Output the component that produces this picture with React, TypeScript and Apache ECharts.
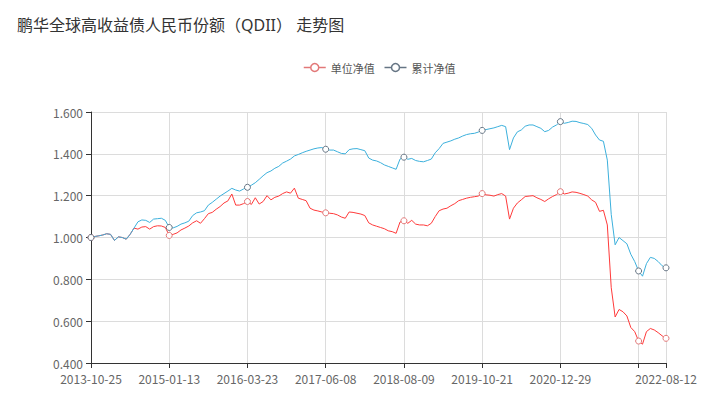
import React, { useEffect, useRef } from 'react';
import * as echarts from 'echarts';

const TITLE = '鹏华全球高收益债人民币份额（QDII） 走势图';
const SERIES_NAMES = ['单位净值', '累计净值'];

// dates shown at the category ticks, and the category index of each
const TICK_DATES = ['2013-10-25', '2015-01-13', '2016-03-23', '2017-06-08', '2018-08-09', '2019-10-21', '2020-12-29', '2022-03-10', '2022-08-12'];
const TICK_INDEX = [0, 20, 40, 60, 80, 100, 120, 140, 147];
const HIDDEN_LABEL_INDEX = [140];

// 单位净值
const unitNav = [
  1.000, 1.005, 1.008, 1.012, 1.018, 1.015, 0.986, 1.003, 1.000, 0.992, 1.015, 1.045,
  1.040, 1.050, 1.052, 1.040, 1.052, 1.056, 1.055, 1.048, 1.010,
  1.015, 1.022, 1.036, 1.045, 1.055, 1.070, 1.080, 1.068, 1.090, 1.114, 1.120, 1.135, 1.148, 1.165, 1.175, 1.208, 1.155, 1.155, 1.162, 1.172,
  1.158, 1.190, 1.160, 1.172, 1.200, 1.180, 1.192, 1.198, 1.210, 1.218, 1.212, 1.236, 1.188, 1.182, 1.176, 1.140, 1.131, 1.127, 1.122, 1.118,
  1.116, 1.114, 1.108, 1.098, 1.092, 1.122, 1.120, 1.116, 1.112, 1.105, 1.070, 1.060, 1.054, 1.048, 1.042, 1.032, 1.028, 1.020, 1.074, 1.080,
  1.068, 1.082, 1.064, 1.060, 1.060, 1.056, 1.068, 1.100, 1.128, 1.136, 1.140, 1.152, 1.162, 1.176, 1.182, 1.188, 1.192, 1.195, 1.198, 1.210,
  1.204, 1.202, 1.198, 1.205, 1.210, 1.198, 1.088, 1.140, 1.165, 1.180, 1.196, 1.198, 1.200, 1.190, 1.182, 1.172, 1.185, 1.196, 1.205, 1.219,
  1.208, 1.212, 1.218, 1.216, 1.211, 1.205, 1.198, 1.180, 1.168, 1.125, 1.130, 1.060, 0.760, 0.620, 0.656, 0.645, 0.625, 0.570, 0.550, 0.505,
  0.490, 0.550, 0.565, 0.558, 0.545, 0.530, 0.518,
];

// 累计净值
const cumNav = [
  1.000, 1.005, 1.008, 1.012, 1.018, 1.015, 0.986, 1.003, 1.000, 0.992, 1.015, 1.045,
  1.075, 1.084, 1.082, 1.072, 1.088, 1.090, 1.092, 1.082, 1.048,
  1.046, 1.053, 1.064, 1.070, 1.078, 1.105, 1.118, 1.122, 1.128, 1.155, 1.168, 1.183, 1.198, 1.210, 1.222, 1.235, 1.227, 1.222, 1.232, 1.240,
  1.250, 1.262, 1.278, 1.295, 1.310, 1.318, 1.331, 1.340, 1.356, 1.365, 1.375, 1.390, 1.397, 1.405, 1.412, 1.418, 1.424, 1.428, 1.430, 1.422,
  1.418, 1.418, 1.410, 1.402, 1.400, 1.420, 1.424, 1.425, 1.420, 1.415, 1.380, 1.370, 1.366, 1.358, 1.347, 1.340, 1.333, 1.326, 1.375, 1.384,
  1.374, 1.378, 1.368, 1.364, 1.362, 1.368, 1.375, 1.405, 1.425, 1.450, 1.456, 1.462, 1.470, 1.476, 1.485, 1.492, 1.496, 1.498, 1.504, 1.512,
  1.516, 1.520, 1.524, 1.530, 1.536, 1.530, 1.420, 1.476, 1.505, 1.514, 1.532, 1.538, 1.538, 1.530, 1.522, 1.506, 1.512, 1.528, 1.538, 1.554,
  1.546, 1.550, 1.556, 1.555, 1.549, 1.545, 1.540, 1.522, 1.490, 1.466, 1.460, 1.370, 1.110, 0.965, 1.000, 0.985, 0.970, 0.920, 0.885, 0.840,
  0.815, 0.875, 0.905, 0.900, 0.885, 0.865, 0.855,
];

const Y_MIN = 0.4;
const Y_MAX = 1.6;
const Y_STEP = 0.2;

const FONT = "'Noto Sans CJK SC', 'Noto Sans', sans-serif";
const TITLE_FONT = "'Noto Sans', 'Noto Sans CJK SC', sans-serif";
const RED_LINE = '#ff3a3a';
const BLUE_LINE = '#3cb0dc';
const RED_MARK = '#e27878';
const GREY_MARK = '#667584';

// category dates: tick dates, with the dates in between spread over each span
function buildCategories(): string[] {
  const out: string[] = [];
  const ms = TICK_DATES.map((d) => Date.parse(d + 'T00:00:00Z'));
  for (let s = 0; s < TICK_INDEX.length - 1; s++) {
    const a = TICK_INDEX[s];
    const b = TICK_INDEX[s + 1];
    for (let i = a; i < b; i++) {
      const t = ms[s] + Math.round(((i - a) / (b - a)) * ((ms[s + 1] - ms[s]) / 86400000)) * 86400000;
      out.push(new Date(t).toISOString().slice(0, 10));
    }
  }
  out.push(TICK_DATES[TICK_DATES.length - 1]);
  return out;
}

const isTick = (i: number) => TICK_INDEX.indexOf(i) >= 0;
const isLabel = (i: number) => isTick(i) && HIDDEN_LABEL_INDEX.indexOf(i) < 0;
const withMarks = (values: number[]) =>
  values.map((v, i) => (isTick(i) ? v : { value: v, symbol: 'none' }));

export default function App() {
  const ref = useRef<HTMLDivElement>(null);

  useEffect(() => {
    if (!ref.current) return;
    const chart = echarts.init(ref.current, undefined, { renderer: 'svg' });
    const categories = buildCategories();

    chart.setOption({
      animation: false,
      textStyle: { fontFamily: FONT },
      title: {
        text: TITLE,
        left: 12,
        top: 12,
        textStyle: { fontSize: 16, fontWeight: 'normal', color: '#333', fontFamily: TITLE_FONT },
      },
      legend: {
        left: 298,
        top: 57,
        itemWidth: 22,
        itemHeight: 10,
        itemGap: 9,
        textStyle: { fontSize: 11, color: '#555', fontFamily: FONT },
        data: [
          {
            name: SERIES_NAMES[0],
            itemStyle: { color: '#fff', borderColor: RED_MARK, borderWidth: 1.5 },
            lineStyle: { color: RED_MARK, width: 1.5 },
          },
          {
            name: SERIES_NAMES[1],
            itemStyle: { color: '#fff', borderColor: GREY_MARK, borderWidth: 1.5 },
            lineStyle: { color: GREY_MARK, width: 1.5 },
          },
        ],
      },
      grid: { left: 91, right: 50, top: 112, bottom: 36, containLabel: false },
      xAxis: {
        type: 'category',
        boundaryGap: false,
        data: categories,
        axisLine: { show: true, lineStyle: { color: '#333' } },
        axisTick: { show: true, interval: (i: number) => isTick(i), length: 5, lineStyle: { color: '#333' } },
        axisLabel: { interval: (i: number) => isLabel(i), color: '#666', fontSize: 12, margin: 9, fontFamily: FONT },
        splitLine: { show: true, interval: (i: number) => isTick(i), lineStyle: { color: '#dcdcdc', width: 1 } },
      },
      yAxis: {
        type: 'value',
        min: Y_MIN,
        max: Y_MAX,
        interval: Y_STEP,
        axisLine: { show: true, lineStyle: { color: '#333' } },
        axisTick: { show: true, length: 5, lineStyle: { color: '#333' } },
        axisLabel: {
          color: '#666',
          fontSize: 12,
          margin: 8,
          fontFamily: FONT,
          formatter: (v: number) => v.toFixed(3),
        },
        splitLine: { show: true, lineStyle: { color: '#dcdcdc', width: 1 } },
      },
      series: [
        {
          name: SERIES_NAMES[0],
          type: 'line',
          data: withMarks(unitNav),
          showAllSymbol: true,
          symbol: 'circle',
          symbolSize: 6,
          itemStyle: { color: '#fff', borderColor: RED_MARK, borderWidth: 1 },
          lineStyle: { color: RED_LINE, width: 1 },
        },
        {
          name: SERIES_NAMES[1],
          type: 'line',
          data: withMarks(cumNav),
          showAllSymbol: true,
          symbol: 'circle',
          symbolSize: 6,
          itemStyle: { color: '#fff', borderColor: GREY_MARK, borderWidth: 1 },
          lineStyle: { color: BLUE_LINE, width: 1 },
        },
      ],
    });

    return () => chart.dispose();
  }, []);

  return (
    <div
      ref={ref}
      style={{ position: 'absolute', left: 0, top: 0, width: 716, height: 399 }}
    />
  );
}
